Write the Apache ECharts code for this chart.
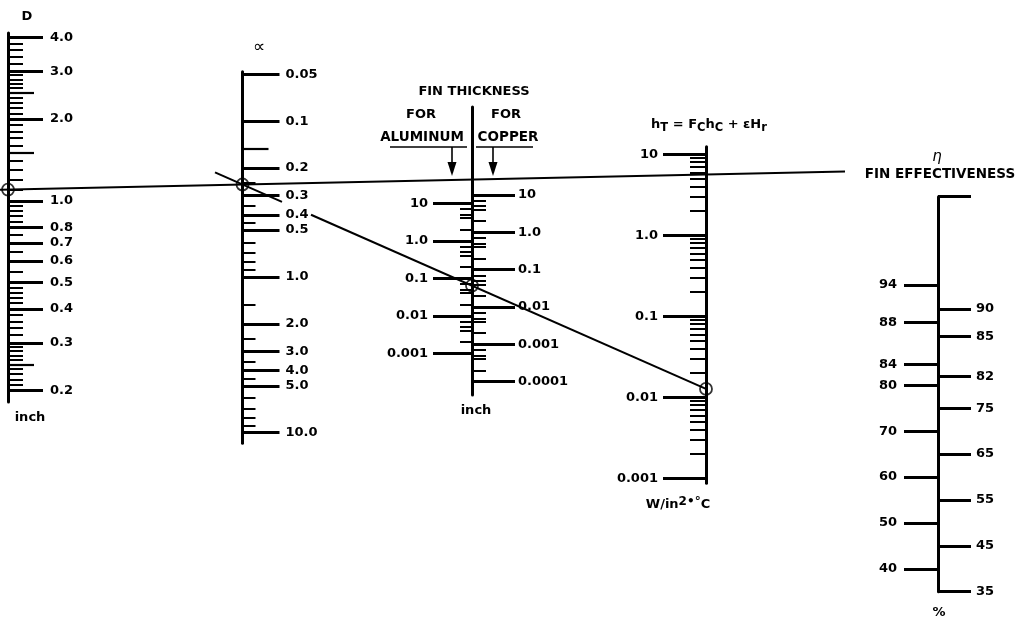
<!DOCTYPE html>
<html><head><meta charset="utf-8">
<script src="https://cdn.jsdelivr.net/npm/echarts@6/dist/echarts.min.js"></script>
<style>html,body{margin:0;padding:0;background:#fff}#c{width:1026px;height:627px}</style>
</head><body><div id="c"></div>
<script>
// D scale (inch), log
const dMajor = [4, 3, 2, 1, 0.8, 0.7, 0.6, 0.5, 0.4, 0.3, 0.2];
const dMajorLabels = ['4.0','3.0','2.0','1.0','0.8','0.7','0.6','0.5','0.4','0.3','0.2'];
const dMedium = [2.5, 1.5, 0.25];
const dMinor = [3.8,3.6,3.4,3.2, 2.9,2.8,2.7,2.6,2.4,2.3,2.2,2.1, 1.9,1.8,1.7,1.6,1.4,1.3,1.2,1.1,
                0.96,0.92,0.88,0.84, 0.75, 0.65, 0.55, 0.48,0.46,0.44,0.42, 0.38,0.36,0.34,0.32,
                0.29,0.28,0.27,0.26,0.24,0.23,0.22,0.21];
const dRange = [0.1817, 4.148];
// alpha scale, log (increasing downward)
const aMajor = [0.05, 0.1, 0.2, 0.3, 0.4, 0.5, 1, 2, 3, 4, 5, 10];
const aMajorLabels = ['0.05','0.1','0.2','0.3','0.4','0.5','1.0','2.0','3.0','4.0','5.0','10.0'];
const aMedium = [0.15];
const aMinor = [0.25, 0.35, 0.45, 0.6, 0.7, 0.8, 0.9, 1.5, 2.5, 3.5, 4.5, 6, 7, 8, 9];
const aRange = [0.0481, 11.7];
// fin thickness, aluminum (left) and copper (right), log
const alMajor = [10, 1, 0.1, 0.01, 0.001];
const alMajorLabels = ['10','1.0','0.1','0.01','0.001'];
const alMinor = [7,5,4,2, 0.7,0.5,0.4,0.2, 0.07,0.05,0.04,0.02, 0.007,0.005,0.004,0.002];
const alRange = [7.73e-5, 3698];
const cuMajor = [10, 1, 0.1, 0.01, 0.001, 0.0001];
const cuMajorLabels = ['10','1.0','0.1','0.01','0.001','0.0001'];
const cuMinor = [7,5,4,2, 0.7,0.5,0.4,0.2, 0.07,0.05,0.04,0.02, 0.007,0.005,0.004,0.002, 0.0007,0.0005,0.0004,0.0002];
const cuRange = [4.4e-5, 2274];
// hT scale, log
const hMajor = [10, 1, 0.1, 0.01, 0.001];
const hMajorLabels = ['10','1.0','0.1','0.01','0.001'];
const hMinor = [9,8,7,6,5,4,3,2, 0.9,0.8,0.7,0.6,0.5,0.4,0.3,0.2, 0.09,0.08,0.07,0.06,0.05,0.04,0.03,0.02,
                0.009,0.008,0.007,0.006,0.005,0.004,0.003,0.002];
const hRange = [8.67e-4, 12.41];
// eta scale (%): graduation value and its place on the scale (in linear % units)
const etaLeft = ['94','88','84','80','70','60','50','40'];
const etaLeftScale = [101.9, 93.7, 84.6, 80, 70, 60, 50, 40];
const etaRight = ['', '90','85','82','75','65','55','45','35'];
const etaRightScale = [121.1, 96.6, 90.6, 81.9, 75, 65, 55, 45, 35];
const etaRange = [35, 121.1];
// example solution (isopleths)
const solD = 1.1, solAlpha = 0.255, solHT = 0.0127;

// ---------- LAYOUT ----------
const FONT = 'DejaVu Sans';
const chart = echarts.init(document.getElementById('c'), null, {renderer: 'canvas'});
const grids = [], xAxes = [], yAxes = [];

function lookup(vals, labels, v, isLog) {
  let best = -1, bd = Infinity;
  vals.forEach((t, i) => {
    const d = isLog ? Math.abs(Math.log10(t) - Math.log10(v)) : Math.abs(t - v);
    if (d < bd) { bd = d; best = i; }
  });
  return best >= 0 && bd < 1e-3 ? labels[best] : '';
}

function addScale(o) {
  const gi = grids.length;
  grids.push({left: o.x, top: o.top, width: 10, height: o.bottom - o.top, show: false,
              containLabel: false, outerBoundsMode: 'none'});
  xAxes.push({gridIndex: gi, type: 'value', show: false, min: 0, max: 1});
  const inside = o.side === 'right';
  const isLog = o.type === 'log';
  yAxes.push({
    gridIndex: gi, type: o.type, logBase: 10, min: o.range[0], max: o.range[1],
    inverse: !!o.inverse, position: 'left', z: 3,
    axisLine: {show: !!o.line, onZero: false, lineStyle: {color: '#000', width: 3}},
    axisTick: {show: true, inside: inside, length: o.len, customValues: o.ticks,
               lineStyle: {color: '#000', width: o.w}},
    axisLabel: o.labels ? {show: true, inside: inside, margin: o.margin, customValues: o.ticks,
               formatter: v => lookup(o.ticks, o.labels, v, isLog),
               color: '#000', fontFamily: FONT, fontWeight: 'bold', fontSize: 13} : {show: false},
    splitLine: {show: false}, minorTick: {show: false}, minorSplitLine: {show: false}
  });
  return gi;
}

const MAJ = 2.8, MED = 2.2, MIN = 2.0;
// D
const gD = addScale({x: 8, top: 33, bottom: 402, type: 'log', range: dRange, ticks: dMajor, labels: dMajorLabels, len: 35, w: MAJ, side: 'right', line: true, margin: 42});
addScale({x: 8, top: 33, bottom: 402, type: 'log', range: dRange, ticks: dMedium, len: 26, w: MED, side: 'right'});
addScale({x: 8, top: 33, bottom: 402, type: 'log', range: dRange, ticks: dMinor, len: 15, w: MIN, side: 'right'});
// alpha
const gA = addScale({x: 242.5, top: 71.7, bottom: 443.3, type: 'log', range: aRange, inverse: true, ticks: aMajor, labels: aMajorLabels, len: 37, w: MAJ, side: 'right', line: true, margin: 43});
addScale({x: 242.5, top: 71.7, bottom: 443.3, type: 'log', range: aRange, inverse: true, ticks: aMedium, len: 26, w: MED, side: 'right'});
addScale({x: 242.5, top: 71.7, bottom: 443.3, type: 'log', range: aRange, inverse: true, ticks: aMinor, len: 13, w: MIN, side: 'right'});
// fin thickness
const gAl = addScale({x: 472, top: 107, bottom: 395, type: 'log', range: alRange, ticks: alMajor, labels: alMajorLabels, len: 39, w: MAJ, side: 'left', line: true, margin: 44});
addScale({x: 472, top: 107, bottom: 395, type: 'log', range: alRange, ticks: alMinor, len: 12, w: MIN, side: 'left'});
addScale({x: 472, top: 107, bottom: 395, type: 'log', range: cuRange, ticks: cuMajor, labels: cuMajorLabels, len: 43, w: MAJ, side: 'right', margin: 46});
addScale({x: 472, top: 107, bottom: 395, type: 'log', range: cuRange, ticks: cuMinor, len: 14, w: MIN, side: 'right'});
// hT
const gH = addScale({x: 706, top: 146.7, bottom: 483.3, type: 'log', range: hRange, ticks: hMajor, labels: hMajorLabels, len: 43, w: MAJ, side: 'left', line: true, margin: 48});
addScale({x: 706, top: 146.7, bottom: 483.3, type: 'log', range: hRange, ticks: hMinor, len: 16, w: MIN, side: 'left'});
// eta
addScale({x: 938, top: 196.7, bottom: 591.7, type: 'value', range: etaRange, ticks: etaLeftScale, labels: etaLeft, len: 34, w: MAJ, side: 'left', line: true, margin: 41});
addScale({x: 938, top: 196.7, bottom: 591.7, type: 'value', range: etaRange, ticks: etaRightScale, labels: etaRight, len: 33, w: MAJ, side: 'right', margin: 38});

// overlay pixel-space grid for isopleths
const gO = grids.length;
grids.push({left: 0, top: 0, width: 1026, height: 627, show: false, containLabel: false, outerBoundsMode: 'none'});
xAxes.push({gridIndex: gO, type: 'value', show: false, min: 0, max: 1026});
yAxes.push({gridIndex: gO, type: 'value', show: false, min: 0, max: 627, inverse: true});

const txt = (x, y, text, extra) => Object.assign({type: 'text', x: x, y: y, z: 10,
  style: Object.assign({text: text, fill: '#000', fontFamily: FONT, fontWeight: 'bold', fontSize: 13,
                        align: 'center', verticalAlign: 'middle'}, extra || {})});
const seg = (x1, y1, x2, y2, w) => ({type: 'line', z: 10, shape: {x1, y1, x2, y2}, style: {stroke: '#000', lineWidth: w || 1}});
const head = (x, y) => ({type: 'polygon', z: 10, shape: {points: [[x - 4.5, y - 14], [x + 4.5, y - 14], [x, y]]}, style: {fill: '#000'}});

const graphic = [
  txt(27, 17, 'D'),
  txt(30, 418, 'inch'),
  txt(259, 48, '\u221D', {fontWeight: 'normal', fontSize: 17}),
  txt(474, 92, 'FIN THICKNESS', {fontSize: 13}),
  txt(421, 115, 'FOR', {fontSize: 13}),
  txt(422, 137, 'ALUMINUM', {fontSize: 13.5}),
  txt(506, 115, 'FOR', {fontSize: 13}),
  txt(508, 137, 'COPPER', {fontSize: 13.5}),
  seg(390, 147, 467, 147, 1.3), seg(476, 147, 533, 147, 1.3),
  seg(452, 147, 452, 162, 1.6), head(452, 176),
  seg(493, 147, 493, 162, 1.6), head(493, 176),
  txt(476, 411, 'inch'),
  txt(709, 125, 'h{s|T} = F{s|C}h{s|C} + \u03B5H{s|r}', {lineHeight: 18, fontSize: 13,
      rich: {s: {fontSize: 11.5, fontWeight: 'bold', fontFamily: FONT, lineHeight: 10, verticalAlign: 'bottom'}}}),
  txt(678, 505, 'W/in{p|2\u2022\u00B0}C', {lineHeight: 18,
      rich: {p: {fontSize: 12, fontWeight: 'bold', fontFamily: FONT, lineHeight: 10, verticalAlign: 'top'}}}),
  txt(937, 157, '\u03B7', {fontWeight: 'normal', fontStyle: 'italic', fontSize: 15}),
  txt(940, 174, 'FIN EFFECTIVENESS', {fontSize: 13.5}),
  txt(939, 613, '%')
];

chart.setOption({
  animation: false,
  backgroundColor: '#fff',
  grid: grids, xAxis: xAxes, yAxis: yAxes,
  graphic: graphic,
  series: []
});

// ---------- isopleths, positioned through the scales ----------
const onScale = (gi, v) => chart.convertToPixel({gridIndex: gi}, [0, v]);
const toOv = p => chart.convertFromPixel({gridIndex: gO}, p);
const pD = onScale(gD, solD), pA = onScale(gA, solAlpha), pH = onScale(gH, solHT);
const finX = onScale(gAl, 1)[0];
const lineY = (p, q, x) => p[1] + (q[1] - p[1]) * (x - p[0]) / (q[0] - p[0]);
const line1Ends = [0, 845];
const line2Pieces = [[215, 282], [311, pH[0]]];
const l1 = line1Ends.map(x => toOv([x, lineY(pD, pA, x)]));
const pF = [finX, lineY(pA, pH, finX)];
const lineStyle = {color: '#000', width: 2};
const series = [
  {type: 'line', xAxisIndex: gO, yAxisIndex: gO, data: l1, symbol: 'none', lineStyle: lineStyle, z: 5, silent: true}
];
line2Pieces.forEach(pc => series.push({type: 'line', xAxisIndex: gO, yAxisIndex: gO, symbol: 'none', lineStyle: lineStyle, z: 5, silent: true,
  data: pc.map(x => toOv([x, lineY(pA, pH, x)]))}));
series.push({type: 'scatter', xAxisIndex: gO, yAxisIndex: gO, symbol: 'circle', symbolSize: 12, z: 6, silent: true,
  itemStyle: {color: 'rgba(0,0,0,0)', borderColor: '#000', borderWidth: 1.8},
  data: [pD, pA, pF, pH].map(toOv)});
chart.setOption({series: series});
</script>
</body></html>
